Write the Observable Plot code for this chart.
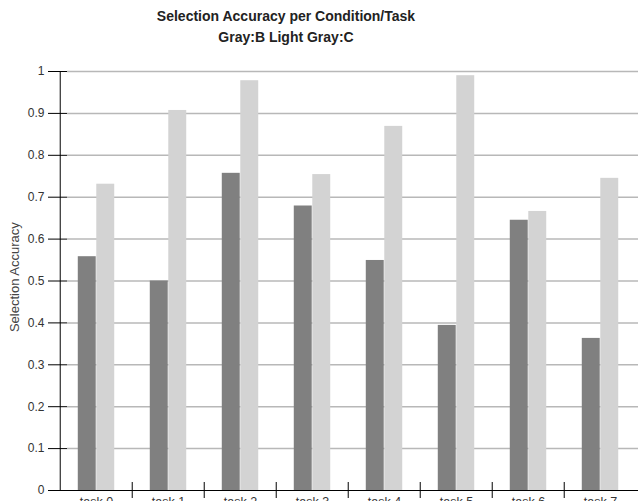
<!DOCTYPE html>
<html>
<head>
<meta charset="utf-8">
<script src="https://cdn.jsdelivr.net/npm/d3@7"></script>
<script src="https://cdn.jsdelivr.net/npm/@observablehq/plot@0.6"></script>
<style>
  html, body { margin: 0; padding: 0; background: #fff; overflow: hidden; }
  #title {
    width: 572px; height: 50px; box-sizing: border-box; padding-top: 6px;
    text-align: center; font: bold 14px/21px "Liberation Sans", Arial, sans-serif; color: #222;
  }
  #chart svg { display: block; overflow: visible; }
</style>
</head>
<body>
<div id="title">Selection Accuracy per Condition/Task<br>Gray:B Light Gray:C</div>
<div id="chart"></div>
<script>
// Selection accuracy for each task under conditions B and C
const tasks = ["task 0", "task 1", "task 2", "task 3", "task 4", "task 5", "task 6", "task 7"];
const accuracyB = [0.558, 0.500, 0.757, 0.679, 0.549, 0.394, 0.645, 0.363];
const accuracyC = [0.731, 0.907, 0.978, 0.754, 0.869, 0.990, 0.666, 0.745];
const yTicks = [0, 0.1, 0.2, 0.3, 0.4, 0.5, 0.6, 0.7, 0.8, 0.9, 1];

const rowsB = tasks.map((task, i) => ({task, condition: "B", accuracy: accuracyB[i]}));
const rowsC = tasks.map((task, i) => ({task, condition: "C", accuracy: accuracyC[i]}));

const W = 638, H = 460, mL = 57.5, mR = 0, mT = 21, mB = 20;
const plotW = W - mL - mR, plotH = H - mT - mB;
const band = plotW / tasks.length;
const tick = 9.5;

const chart = Plot.plot({
  width: W, height: H,
  marginLeft: mL, marginRight: mR, marginTop: mT, marginBottom: mB,
  style: {fontFamily: "'Liberation Sans', Arial, sans-serif", fontSize: "12px", color: "#333", background: "#fff"},
  x: {domain: tasks, padding: 0, axis: null},
  y: {domain: [0, 1], axis: null},
  marks: [
    // horizontal grid
    Plot.ruleY(yTicks.slice(1), {stroke: "#b8b8b8", strokeWidth: 1.5, insetLeft: tick}),
    // bars: B (dark) then C (light) side by side in each task band
    Plot.barY(rowsB, {x: "task", y: "accuracy", fill: "#808080", insetLeft: band * 0.245, insetRight: band * 0.5}),
    Plot.barY(rowsC, {x: "task", y: "accuracy", fill: "#d3d3d3", insetLeft: band * 0.5, insetRight: band * 0.245}),
    // y ticks crossing the axis line
    Plot.ruleY(yTicks, {stroke: "#000", insetLeft: -tick, insetRight: plotW - tick}),
    Plot.axisY({ticks: yTicks, tickSize: 0, tickPadding: 13.5, fill: "#333", tickFormat: d => String(+d.toFixed(1)), label: null}),
    // axis lines
    Plot.ruleY([0], {stroke: "#000", insetLeft: -tick}),
    Plot.ruleX([tasks[0]], {stroke: "#000", dx: -band / 2}),
    // separators between task bands
    Plot.ruleX(tasks.slice(1), {stroke: "#000", dx: -band / 2, insetTop: plotH - 8, insetBottom: -8}),
    Plot.axisX({tickSize: 0, tickPadding: 7, fill: "#333", fontSize: 12.5, label: null}),
    // y axis title
    Plot.text(["Selection Accuracy"], {
      frameAnchor: "left", rotate: -90, dx: 14 - mL, dy: -3.8,
      fill: "#444", fontSize: 13, textAnchor: "middle", lineAnchor: "middle"
    })
  ]
});
document.getElementById("chart").appendChild(chart);
</script>
</body>
</html>
